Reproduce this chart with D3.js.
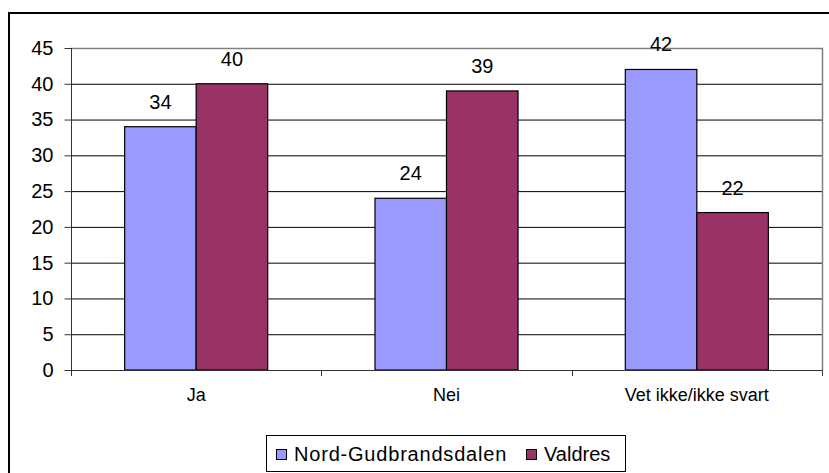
<!DOCTYPE html>
<html>
<head>
<meta charset="utf-8">
<script src="https://cdn.jsdelivr.net/npm/d3@7"></script>
<style>
  body { margin: 0; background: #fff; }
  text { font-family: "Liberation Sans", Arial, sans-serif; }
</style>
</head>
<body>
<div id="chart"></div>
<script>
// chart data
var categories = ["Ja", "Nei", "Vet ikke/ikke svart"]
var seriesNames = ["Nord-Gudbrandsdalen", "Valdres"]
var nordValues = [34, 24, 42]
var valdresValues = [40, 39, 22]
var yTicks = [0, 5, 10, 15, 20, 25, 30, 35, 40, 45]
var colors = ["#9999FF", "#993366"]

var W = 829, H = 473
var plot = { left: 71, top: 48, right: 822, bottom: 370 }

var svg = d3.select("#chart").append("svg")
  .attr("width", W).attr("height", H)

// outer chart border (runs off the page at right and bottom)
svg.append("rect")
  .attr("x", 9).attr("y", 13)
  .attr("width", 840).attr("height", 480)
  .attr("fill", "#fff").attr("stroke", "#000").attr("stroke-width", 2)

var x = d3.scaleBand().domain(categories).range([plot.left, plot.right])
var y = d3.scaleLinear().domain([0, 45]).range([plot.bottom, plot.top])
var barW = x.bandwidth() / 3.5

// gridlines
svg.append("g").selectAll("line")
  .data(yTicks.filter(function (d) { return d > 0 && d < 45 }))
  .enter().append("line")
  .attr("x1", plot.left).attr("x2", plot.right)
  .attr("y1", function (d) { return y(d) + 0.5 })
  .attr("y2", function (d) { return y(d) + 0.5 })
  .attr("stroke", "#000").attr("stroke-width", 1)

// plot area frame (top + right gray)
svg.append("path")
  .attr("d", "M" + plot.left + "," + (plot.top + 0.5) + "H" + (plot.right + 0.5) + "V" + plot.bottom)
  .attr("fill", "none").attr("stroke", "#808080").attr("stroke-width", 1.5)

// y axis
var yAxis = svg.append("g")
  .attr("transform", "translate(" + (plot.left + 0.5) + ",0)")
  .call(d3.axisLeft(y).tickValues(yTicks).tickSize(7).tickPadding(11))
yAxis.select(".domain").attr("stroke", "#333").attr("d", "M0," + plot.top + "V" + (plot.bottom + 5))
yAxis.selectAll(".tick line").attr("stroke", "#333")
yAxis.selectAll("text").attr("font-size", 20).attr("fill", "#000")

// bars
var series = [nordValues, valdresValues]
series.forEach(function (vals, s) {
  svg.append("g").selectAll("rect")
    .data(vals)
    .enter().append("rect")
    .attr("x", function (d, i) { return x(categories[i]) + x.bandwidth() / 2 - barW + s * barW })
    .attr("y", function (d) { return y(d) })
    .attr("width", barW)
    .attr("height", function (d) { return y(0) - y(d) })
    .attr("fill", colors[s])
    .attr("stroke", "#000").attr("stroke-width", 1.2)

  svg.append("g").selectAll("text")
    .data(vals)
    .enter().append("text")
    .attr("x", function (d, i) { return x(categories[i]) + x.bandwidth() / 2 - barW / 2 + s * barW })
    .attr("y", function (d) { return y(d) - 18 })
    .attr("text-anchor", "middle")
    .attr("font-size", 20)
    .text(function (d) { return d })
})

// x axis
var xAxis = svg.append("g")
  .attr("transform", "translate(0," + (plot.bottom + 0.5) + ")")
  .call(d3.axisBottom(x).tickSize(0).tickPadding(18))
xAxis.select(".domain").attr("stroke", "#333").attr("d", "M" + plot.left + ",0H" + (plot.right + 0.5))
xAxis.selectAll("text").attr("font-size", 18).attr("fill", "#000")
// category separator ticks
svg.append("g").selectAll("line")
  .data([plot.left, x(categories[1]), x(categories[2]), plot.right])
  .enter().append("line")
  .attr("x1", function (d) { return Math.round(d) + 0.5 })
  .attr("x2", function (d) { return Math.round(d) + 0.5 })
  .attr("y1", plot.bottom).attr("y2", plot.bottom + 6)
  .attr("stroke", "#333")

// legend
var legend = svg.append("g")
legend.append("rect")
  .attr("x", 266.5).attr("y", 435.5).attr("width", 359).attr("height", 36)
  .attr("fill", "#fff").attr("stroke", "#000").attr("stroke-width", 1)
var legX = [276, 526]
seriesNames.forEach(function (name, i) {
  legend.append("rect")
    .attr("x", legX[i] + 0.5).attr("y", 449.5).attr("width", 10).attr("height", 10)
    .attr("fill", colors[i]).attr("stroke", "#000").attr("stroke-width", 1)
  legend.append("text")
    .attr("x", legX[i] + 18).attr("y", 461)
    .attr("font-size", 20)
    .attr("letter-spacing", i === 0 ? 0.8 : 0)
    .text(name)
})
</script>
</body>
</html>
